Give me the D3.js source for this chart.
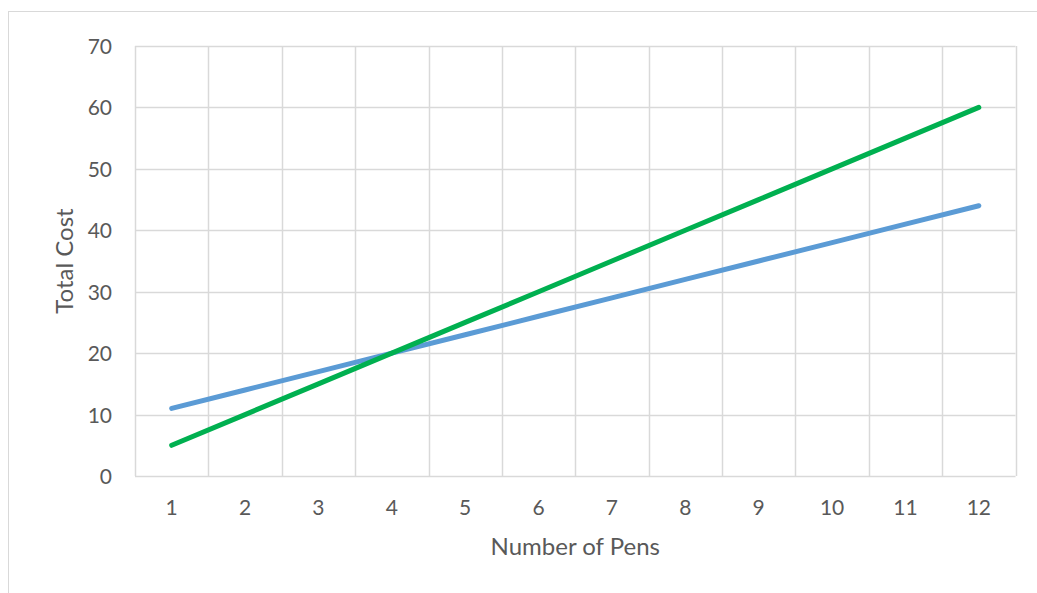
<!DOCTYPE html>
<html><head><meta charset="utf-8">
<script src="https://cdn.jsdelivr.net/npm/d3@7"></script>
<style>body{margin:0;background:#fff}svg{display:block}text{font-family:Lato,"Open Sans",sans-serif;fill:#595959}</style>
</head><body>
<svg id="c" width="1037" height="593"></svg>
<script>
const categories = [1,2,3,4,5,6,7,8,9,10,11,12];
const seriesBlue = [11,14,17,20,23,26,29,32,35,38,41,44];
const seriesGreen = [5,10,15,20,25,30,35,40,45,50,55,60];
const yTicks = [0,10,20,30,40,50,60,70];
const xTitle = "Number of Pens";
const yTitle = "Total Cost";

const svg = d3.select("#c");
const m = {l:135, r:1015.5, t:46, b:476};
svg.append("rect").attr("x",8.5).attr("y",11.5).attr("width",1100).attr("height",700)
  .attr("fill","none").attr("stroke","#d9d9d9").attr("stroke-width",1);

const x = d3.scaleBand().domain(categories).range([m.l,m.r]);
const y = d3.scaleLinear().domain([0,70]).range([m.b,m.t]);

const g = svg.append("g");
g.selectAll(".hg").data(yTicks).join("line")
  .attr("x1",m.l).attr("x2",m.r).attr("y1",d=>Math.round(y(d))+0.5).attr("y2",d=>Math.round(y(d))+0.5)
  .attr("stroke","#d9d9d9").attr("stroke-width",1.5);
const bounds = categories.map(c=>x(c)).concat([m.r]);
g.selectAll(".vg").data(bounds).join("line")
  .attr("x1",d=>Math.round(d)+0.5).attr("x2",d=>Math.round(d)+0.5).attr("y1",m.t).attr("y2",m.b)
  .attr("stroke","#d9d9d9").attr("stroke-width",1.5);

const font = "Lato,'Open Sans',sans-serif";
const yAxis = d3.axisLeft(y).tickValues(yTicks).tickSize(0).tickPadding(23);
const ya = svg.append("g").attr("transform",`translate(${m.l},0)`).call(yAxis);
ya.select(".domain").remove();
ya.selectAll("text").style("font-size","21px").attr("fill","#595959").style("font-family",font).attr("dy","0.36em");

const xAxis = d3.axisBottom(x).tickSize(0);
const xa = svg.append("g").attr("transform",`translate(0,${m.b})`).call(xAxis);
xa.select(".domain").remove();
xa.selectAll("text").style("font-size","21px").attr("fill","#595959").style("font-family",font).attr("y",39).attr("dy",0);

const line = d3.line().x((d,i)=>x(categories[i])+x.bandwidth()/2).y(d=>y(d));
svg.append("path").datum(seriesBlue).attr("d",line).attr("fill","none")
  .attr("stroke","#5b9bd5").attr("stroke-width",5).attr("stroke-linecap","round");
svg.append("path").datum(seriesGreen).attr("d",line).attr("fill","none")
  .attr("stroke","#00b050").attr("stroke-width",5).attr("stroke-linecap","round");

svg.append("text").attr("x",(m.l+m.r)/2).attr("y",555).attr("text-anchor","middle")
  .style("font-size","24px").text(xTitle);
svg.append("text").attr("transform",`translate(73,${(m.t+m.b)/2}) rotate(-90)`).attr("text-anchor","middle")
  .style("font-size","24px").text(yTitle);
</script>
</body></html>
